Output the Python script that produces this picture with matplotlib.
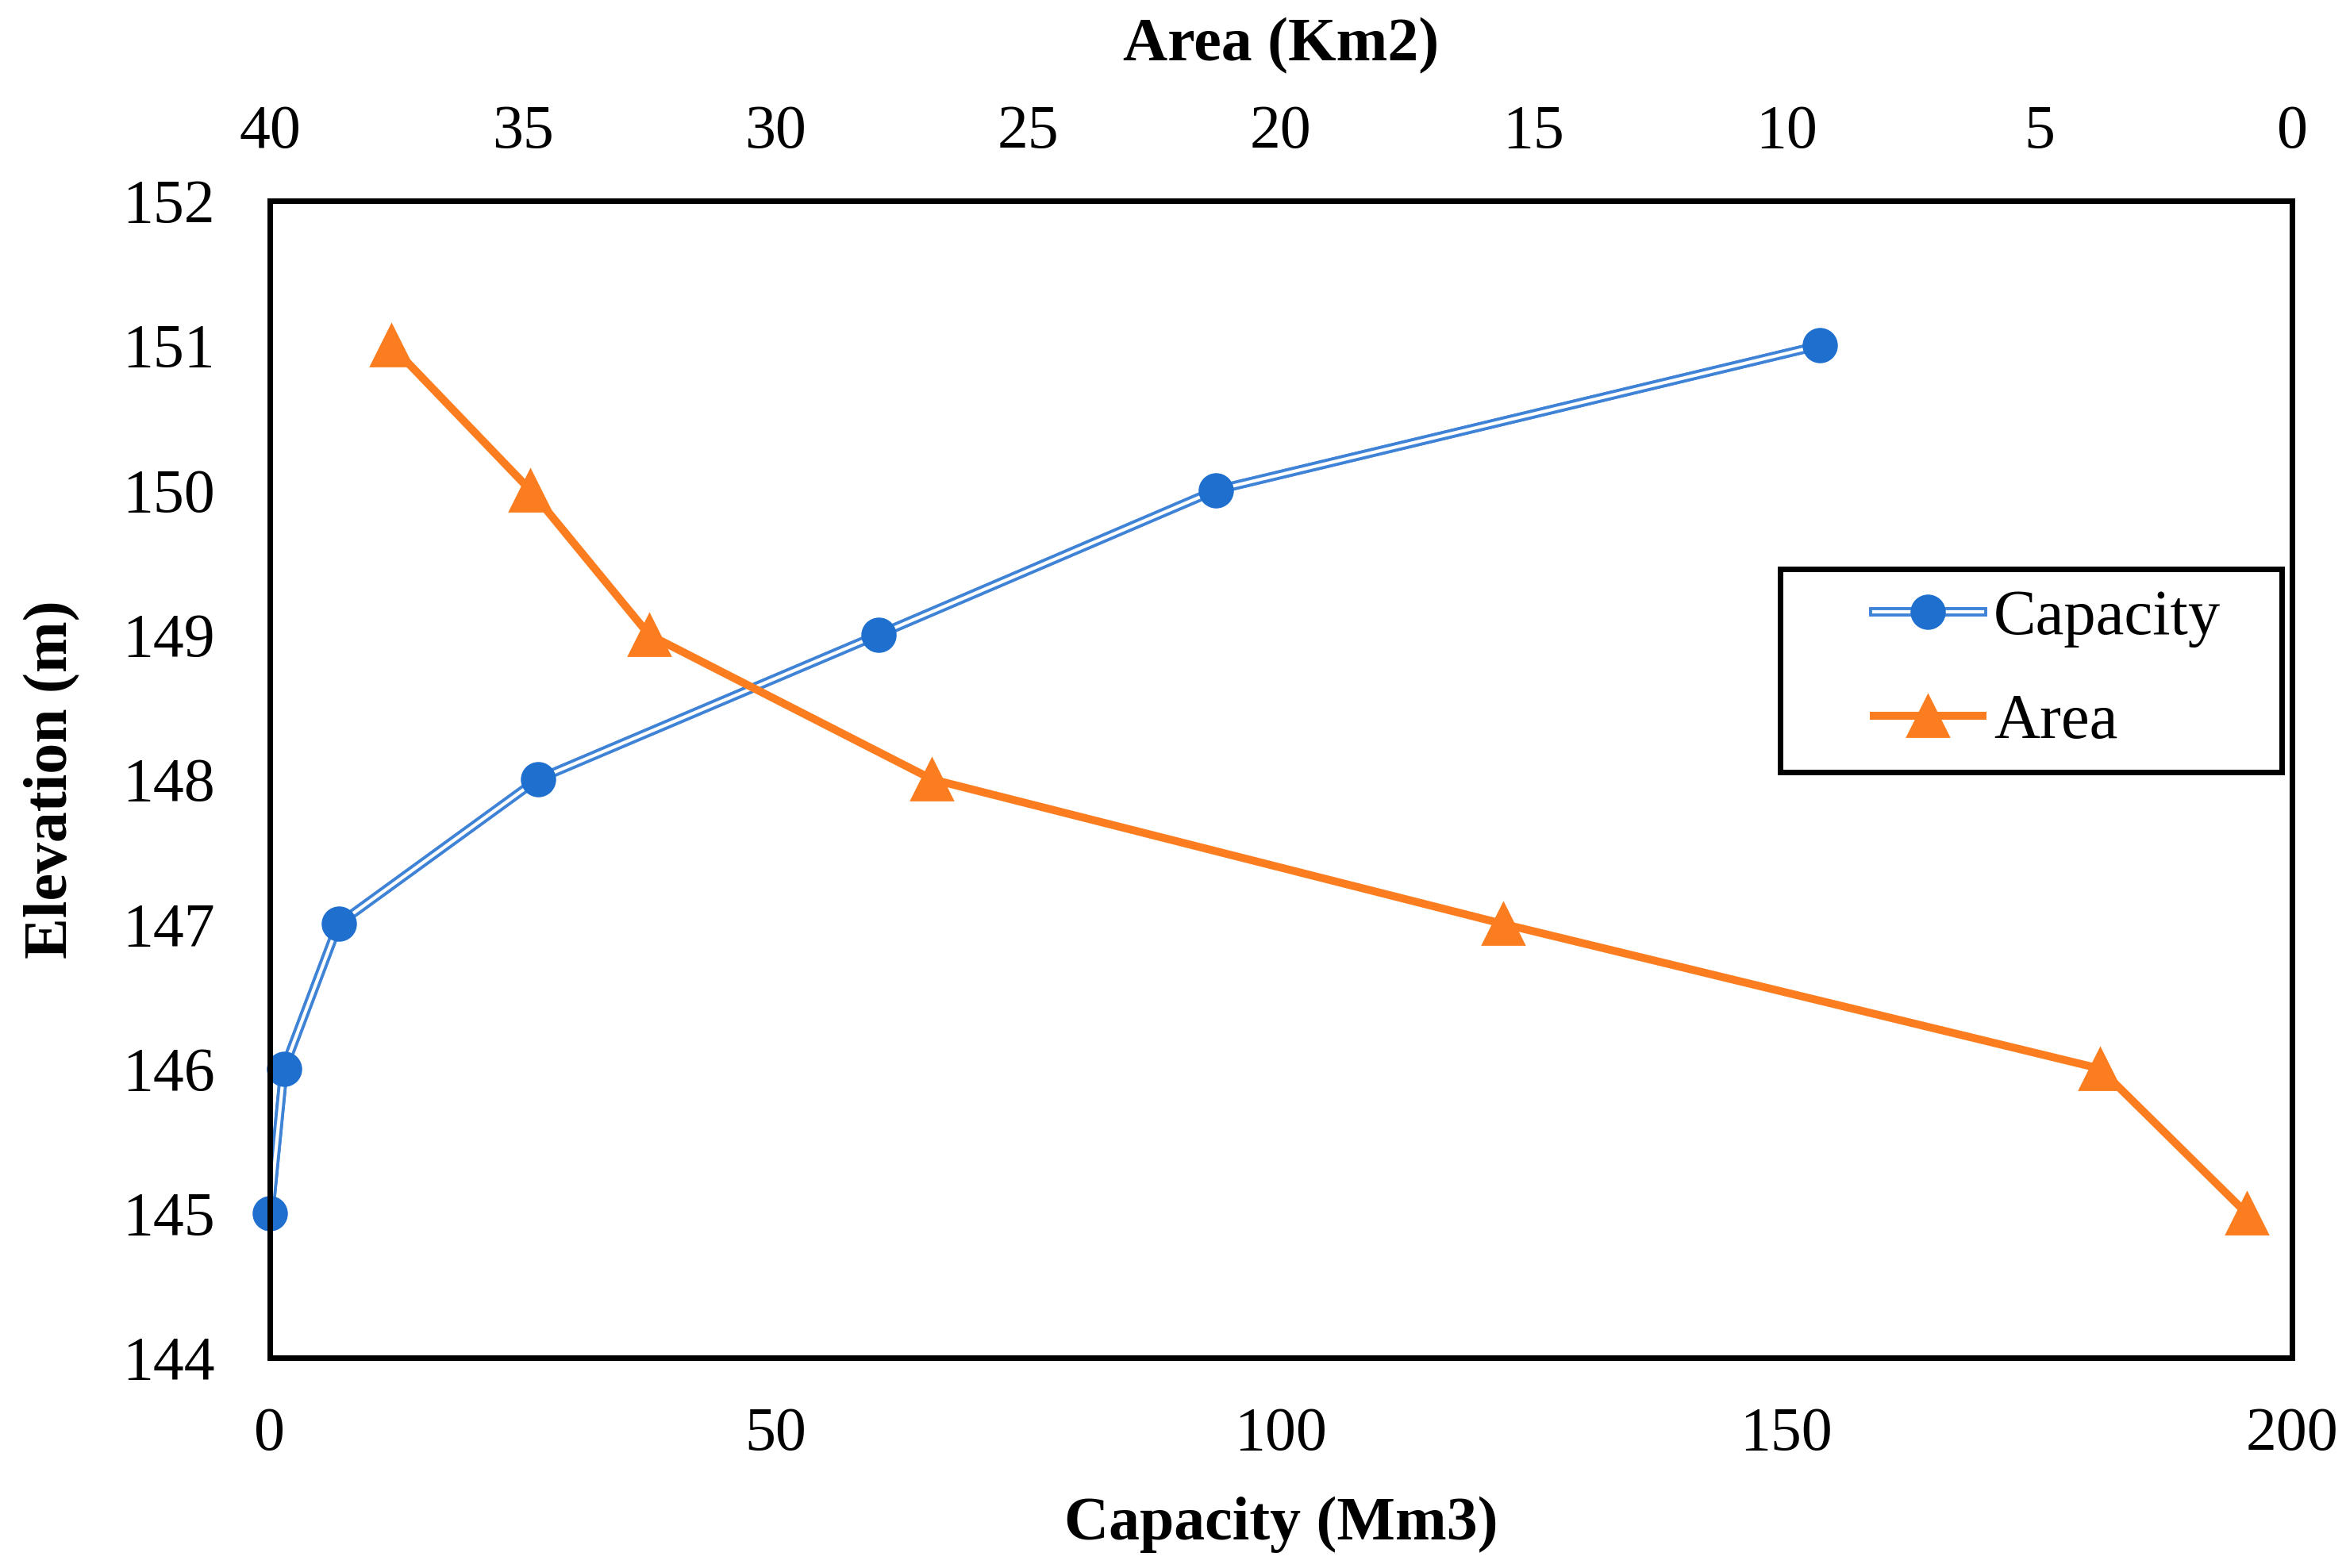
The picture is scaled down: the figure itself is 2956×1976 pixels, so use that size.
"""
Elevation - capacity - area curves
"""

import matplotlib
matplotlib.use("Agg")
from matplotlib import pyplot as plt
from matplotlib.lines import Line2D
from matplotlib.patches import Rectangle
import matplotlib.patheffects as pe

plt.rcParams["font.family"] = ["Liberation Serif", "DejaVu Serif"]

elevation = [145, 146, 147, 148, 149, 150, 151]
capacity = [0.0, 1.4, 6.8, 26.5, 60.2, 93.6, 153.3]  # Mm3
area = [0.9, 3.8, 15.6, 26.9, 32.5, 34.85, 37.6]  # Km2

BLUE = "#1f6fcf"
BLUE_LINE = "#3f83d6"
ORANGE = "#fb7d1f"
FS = 28

DOUBLE = [pe.Stroke(linewidth=4.2, foreground=BLUE_LINE), pe.Normal(),
          pe.Stroke(linewidth=1.5, foreground="white")]


def main():
    fig = plt.figure(figsize=(14.78, 9.88), dpi=200)
    ax = fig.add_axes([0.115, 0.134, 0.862, 0.738])
    ax2 = ax.twiny()

    # capacity: double line like excel
    ax.plot(capacity, elevation, color=BLUE_LINE, lw=4.2, zorder=3, path_effects=DOUBLE)
    ax.plot(capacity, elevation, ls="none", marker="o", ms=15, color=BLUE, zorder=4, clip_on=False)

    ax2.plot(area, elevation, color=ORANGE, lw=3.6, marker="^", ms=19, zorder=3, clip_on=False)

    ax.set_xlim(0, 200)
    ax.set_ylim(144, 152)
    ax2.set_xlim(40, 0)
    ax.set_xticks(range(0, 201, 50))
    ax.set_yticks(range(144, 153))
    ax2.set_xticks(range(0, 41, 5))

    for a in (ax, ax2):
        a.tick_params(length=0, labelsize=FS)
        for s in a.spines.values():
            s.set_linewidth(2.5)
    ax.tick_params(axis="x", pad=22)
    ax.tick_params(axis="y", pad=25)
    ax2.tick_params(axis="x", pad=18)

    ax.set_xlabel("Capacity (Mm3)", fontsize=FS, fontweight="bold", labelpad=15)
    ax.set_ylabel("Elevation (m)", fontsize=FS, fontweight="bold", labelpad=19)
    ax2.set_xlabel("Area (Km2)", fontsize=FS, fontweight="bold", labelpad=20)

    # legend
    h1_line = Line2D([], [], color=BLUE_LINE, lw=4.2, path_effects=DOUBLE)
    h1_mark = Line2D([], [], ls="none", marker="o", ms=15, color=BLUE)
    h2 = Line2D([], [], color=ORANGE, lw=3.6, marker="^", ms=19)
    ax2.legend([(h1_line, h1_mark), h2], ["Capacity", "Area"], loc="center left",
               bbox_to_anchor=(0.793, 0.594), fontsize=29, frameon=False,
               handlelength=1.7, labelspacing=0.72, borderpad=0, handletextpad=0.18,
               borderaxespad=0)
    ax2.add_patch(Rectangle((0.747, 0.506), 0.248, 0.176, transform=ax2.transAxes,
                            fill=False, lw=2.5, edgecolor="black", zorder=5))

    fig.savefig("out.png", dpi=200)


if __name__ == '__main__':
    main()
